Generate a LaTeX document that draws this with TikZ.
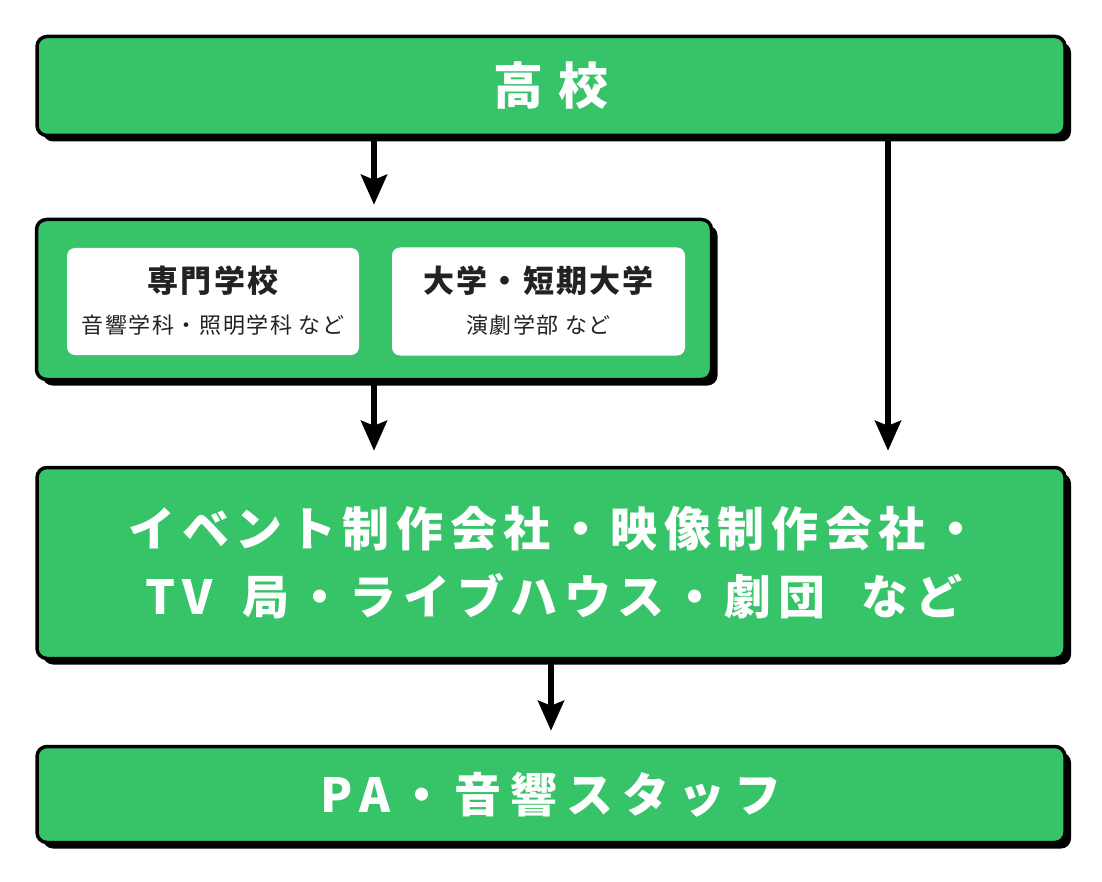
\documentclass[tikz,border=0pt]{standalone}
\usepackage{fontspec}
\usetikzlibrary{arrows.meta,shadows}
\newfontfamily\jpTop[LetterSpace=30]{Noto Sans CJK JP}
\newfontfamily\jpBig[LetterSpace=14]{Noto Sans CJK JP}
\newfontfamily\jpPA[LetterSpace=19]{Noto Sans CJK JP}
\newfontfamily\jpTitle[LetterSpace=7]{Noto Sans CJK JP}
\newfontfamily\jpSub[LetterSpace=7]{Noto Sans CJK JP}
\definecolor{grn}{HTML}{37C468}
\definecolor{ink}{HTML}{222222}
\tikzset{
  greenbox/.style={draw=black, line width=3.5pt, fill=grn, rounded corners=10pt,
    inner sep=0pt, drop shadow={shadow xshift=6pt, shadow yshift=-6pt, opacity=1, fill=black}},
  whitebox/.style={fill=white, rounded corners=8pt, inner sep=0pt},
  arr/.style={line width=5.5pt, -{Stealth[length=30pt, width=26pt, inset=5pt]}},
  wtext/.style={text=white, inner sep=0pt},
  dtext/.style={text=ink, inner sep=0pt},
}
\begin{document}
\begin{tikzpicture}[x=1pt, y=-1pt]
\useasboundingbox (0,0) rectangle (1102,882);
% boxes
\node[greenbox, minimum width=1028pt, minimum height=99pt] (top) at (551,86) {};
\node[greenbox, minimum width=675pt, minimum height=160pt] (mid) at (374,299.5) {};
\node[whitebox, minimum width=292pt, minimum height=107pt] (w1) at (213,301.5) {};
\node[whitebox, minimum width=293pt, minimum height=108pt] (w2) at (538.5,301.5) {};
\node[greenbox, minimum width=1028pt, minimum height=191pt] (big) at (551,563) {};
\node[greenbox, minimum width=1028pt, minimum height=96pt] (pa) at (551,794.5) {};
% texts
\node[wtext, font=\jpTop\bfseries\fontsize{50}{60}\selectfont] (tTop) at (top) {高校};
\node[dtext, font=\jpTitle\bfseries\fontsize{31}{36}\selectfont] (t1) at (213,281) {専門学校};
\node[dtext, font=\jpSub\fontsize{22}{26}\selectfont] (s1) at (213,325) {音響学科・照明学科 など};
\node[dtext, font=\jpTitle\bfseries\fontsize{31}{36}\selectfont] (t2) at (538.5,281) {大学・短期大学};
\node[dtext, font=\jpSub\fontsize{22}{26}\selectfont] (s2) at (538.5,325) {演劇学部 など};
\node[wtext, align=center, font=\jpBig\bfseries\fontsize{47}{68}\selectfont] (tBig) at (554,563) {イベント制作会社・映像制作会社・\\TV\hspace{30pt}局・ライブハウス・劇団\hspace{36pt}など};
\node[wtext, font=\jpPA\bfseries\fontsize{47}{56}\selectfont] (tPA) at (pa) {PA・音響スタッフ};
% arrows
\coordinate (rx) at (888,0);
\draw[arr, shorten >=13pt] (top.south -| mid.north) -- (mid.north);
\draw[arr, shorten >=15pt] (mid.south) -- (big.north -| mid.south);
\draw[arr, shorten >=15pt] (top.south -| rx) -- (big.north -| rx);
\draw[arr, shorten >=14pt] (big.south) -- (pa.north);
\end{tikzpicture}
\end{document}
